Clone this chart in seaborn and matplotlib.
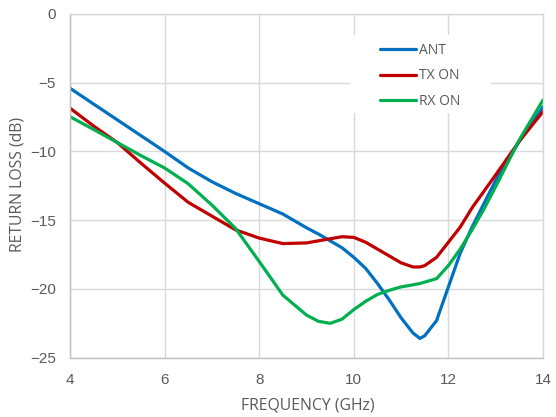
import numpy as np
import pandas as pd
import matplotlib
matplotlib.use("Agg")
import matplotlib.pyplot as plt
from matplotlib.patches import Rectangle
import seaborn as sns

freq = [4, 4.5, 5, 5.5, 6, 6.5, 7, 7.5, 8, 8.5, 9, 9.25, 9.5, 9.75, 10, 10.25, 10.5, 10.75, 11,
        11.25, 11.4, 11.5, 11.75, 12, 12.25, 12.5, 12.75, 13, 13.5, 14]

ant = [-5.4, -6.55, -7.7, -8.85, -10.0, -11.2, -12.2, -13.05, -13.8, -14.55, -15.55, -16.0, -16.5,
       -17.0, -17.7, -18.5, -19.6, -20.8, -22.1, -23.2, -23.6, -23.4, -22.3, -19.85, -17.4, -15.5,
       -13.8, -12.1, -9.25, -6.75]

tx_on = [-6.85, -8.15, -9.35, -10.85, -12.3, -13.7, -14.7, -15.7, -16.3, -16.7, -16.65, -16.5, -16.35,
         -16.2, -16.25, -16.6, -17.1, -17.6, -18.1, -18.4, -18.4, -18.3, -17.7, -16.6, -15.5, -14.1,
         -12.9, -11.7, -9.25, -7.1]

rx_on = [-7.47, -8.4, -9.35, -10.3, -11.2, -12.35, -13.9, -15.6, -18.0, -20.45, -21.9, -22.35, -22.5,
         -22.2, -21.5, -20.9, -20.4, -20.1, -19.85, -19.7, -19.6, -19.5, -19.25, -18.3, -17.1, -15.7,
         -14.2, -12.55, -9.15, -6.26]

series_names = ["ANT", "TX ON", "RX ON"]
colors = ["#0070C0", "#C00000", "#00B050"]

x_ticks = [4, 6, 8, 10, 12, 14]
y_ticks = [0, -5, -10, -15, -20, -25]

df = pd.DataFrame({
    "freq": freq * 3,
    "rl": ant + tx_on + rx_on,
    "series": [series_names[0]] * len(freq) + [series_names[1]] * len(freq) + [series_names[2]] * len(freq),
})

sns.set_theme(style="whitegrid")
plt.rcParams["font.family"] = ["Open Sans", "DejaVu Sans"]

W, H = 556, 417
fig = plt.figure(figsize=(W / 100, H / 100), dpi=100)
ax = fig.add_axes([70 / W, 1 - 357.7 / H, (543 - 70) / W, (357.7 - 14) / H])

sns.lineplot(data=df, x="freq", y="rl", hue="series", palette=colors, hue_order=series_names,
             linewidth=2.3, ax=ax, legend=False, sort=False, estimator=None)

ax.set_xlim(4, 14)
ax.set_ylim(-25, 0)
ax.set_xticks(x_ticks)
ax.set_yticks(y_ticks)
ax.grid(True, color="#D9D9D9", linewidth=1.0)
for s in ax.spines.values():
    s.set_color("#D9D9D9")
    s.set_linewidth(1.0)
ax.spines["left"].set_color("#BFBFBF")
ax.spines["bottom"].set_color("#BFBFBF")
ax.tick_params(axis="both", length=0, labelsize=11, labelcolor="#595959")
ax.tick_params(axis="y", pad=10)
ax.tick_params(axis="x", pad=11)
for lbl in ax.get_xticklabels() + ax.get_yticklabels():
    lbl.set_family(["Liberation Sans", "DejaVu Sans"])

ax.set_xlabel("FREQUENCY (GHz)", fontsize=11.3, color="#595959")
ax.set_ylabel("RETURN LOSS (dB)", fontsize=11.3, color="#595959")
ax.xaxis.set_label_coords(((240 + 375) / 2 - 70) / 473, (357.7 - 405) / 343.7)
ax.xaxis.label.set_va("center")
ax.yaxis.set_label_coords((18 - 70) / 473, (357.7 - 184) / 343.7)
ax.yaxis.label.set_va("center")

# white legend background block (as in the original chart)
ax.add_patch(Rectangle((350 / W, 1 - 113 / H), (491 - 350) / W, (113 - 35) / H,
                       transform=fig.transFigure, facecolor="white", edgecolor="none", zorder=1))

handles = [plt.Line2D([], [], color=c, linewidth=2.3) for c in colors]
leg = ax.legend(handles, series_names, loc="upper left", bbox_to_anchor=(373 / W, 1 - 36 / H),
                bbox_transform=fig.transFigure, frameon=False, fontsize=10, handlelength=2.6,
                handletextpad=0.2, labelspacing=0.75, borderpad=0.5, borderaxespad=0)
for t in leg.get_texts():
    t.set_color("#595959")

fig.savefig("out.png", dpi=100)
